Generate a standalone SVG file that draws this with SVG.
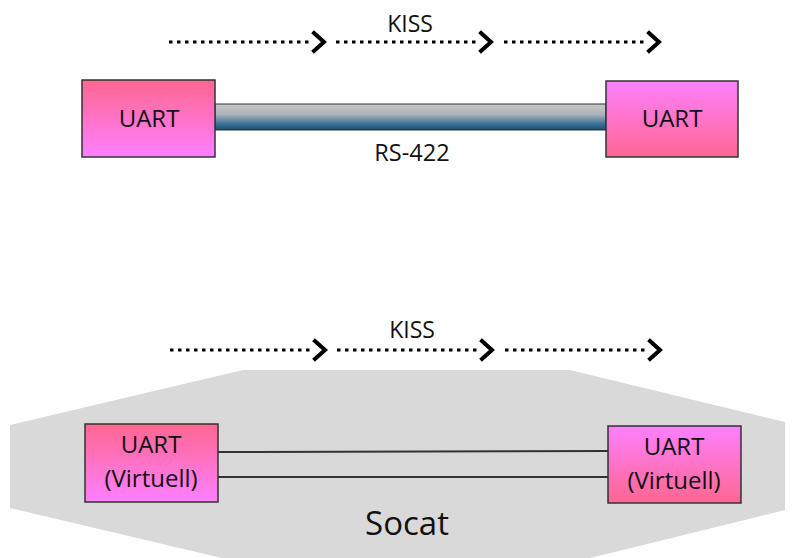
<svg xmlns="http://www.w3.org/2000/svg" width="795" height="558" viewBox="0 0 795 558">
  <defs>
    <linearGradient id="pinkDown" x1="0" y1="0" x2="0" y2="1">
      <stop offset="0" stop-color="#ff6690"/>
      <stop offset="1" stop-color="#ff80ff"/>
    </linearGradient>
    <linearGradient id="pinkUp" x1="0" y1="0" x2="0" y2="1">
      <stop offset="0" stop-color="#ff80ff"/>
      <stop offset="1" stop-color="#ff6690"/>
    </linearGradient>
    <linearGradient id="cable" x1="0" y1="0" x2="0" y2="1">
      <stop offset="0" stop-color="#c8c8c8"/>
      <stop offset="0.4" stop-color="#aab4bb"/>
      <stop offset="0.75" stop-color="#3f7399"/>
      <stop offset="1" stop-color="#17506f"/>
    </linearGradient>
  </defs>
  <style>
    .box { stroke: #333; stroke-width: 1.5; }
    .lbl { font-family: "Open Sans", "Noto Sans", "Liberation Sans", sans-serif; fill: #111; text-anchor: middle; }
    .dots { fill: none; stroke: #000; stroke-width: 3; stroke-dasharray: 3.5 4.5; }
    .chev { fill: none; stroke: #000; stroke-width: 4; stroke-linecap: square; stroke-linejoin: miter; }
    .wire { stroke: #333; stroke-width: 2; }
  </style>

  <rect width="795" height="558" fill="#ffffff"/>

  <!-- socat area -->
  <g id="socat">
    <polygon points="243,370 570,370 785,422 785,510 570,563 243,563 10,508 10,425" fill="#d9d9d9"/>
    <text class="lbl" x="407" y="535" font-size="33">Socat</text>
  </g>

  <!-- connectors -->
  <g id="connectors">
    <!-- RS-422 cable -->
    <rect x="215" y="104" width="391" height="26" fill="url(#cable)" stroke="#333" stroke-width="1"/>
    <!-- virtual link -->
    <line class="wire" x1="218" y1="452" x2="608" y2="451"/>
    <line class="wire" x1="218" y1="477" x2="608" y2="477"/>

    <!-- KISS flow, top -->
    <line class="dots" x1="169" y1="42" x2="313" y2="42"/>
    <polyline class="chev" points="314,33 324,42 314,51"/>
    <line class="dots" x1="336" y1="42" x2="480" y2="42"/>
    <polyline class="chev" points="481,33 491,42 481,51"/>
    <line class="dots" x1="504" y1="42" x2="648" y2="42"/>
    <polyline class="chev" points="649,33 659,42 649,51"/>

    <!-- KISS flow, bottom -->
    <line class="dots" x1="170" y1="350" x2="314" y2="350"/>
    <polyline class="chev" points="315,341 325,350 315,359"/>
    <line class="dots" x1="337" y1="350" x2="481" y2="350"/>
    <polyline class="chev" points="482,341 492,350 482,359"/>
    <line class="dots" x1="505" y1="350" x2="649" y2="350"/>
    <polyline class="chev" points="650,341 660,350 650,359"/>

    <text class="lbl" x="410" y="32" font-size="23">KISS</text>
    <text class="lbl" x="412" y="161" font-size="23.5">RS-422</text>
    <text class="lbl" x="412" y="338" font-size="23">KISS</text>
  </g>

  <g id="uart-a">
    <rect class="box" x="82" y="80" width="133" height="77" fill="url(#pinkDown)"/>
    <text class="lbl" x="149" y="127" font-size="24">UART</text>
  </g>

  <g id="uart-b">
    <rect class="box" x="606" y="81" width="132" height="76" fill="url(#pinkUp)"/>
    <text class="lbl" x="672" y="127" font-size="24">UART</text>
  </g>

  <g id="vuart-a">
    <rect class="box" x="85" y="424" width="133" height="78" fill="url(#pinkDown)"/>
    <text class="lbl" x="151" y="453" font-size="24">UART</text>
    <text class="lbl" x="151" y="487" font-size="24">(Virtuell)</text>
  </g>

  <g id="vuart-b">
    <rect class="box" x="608" y="426" width="133" height="77" fill="url(#pinkUp)"/>
    <text class="lbl" x="674" y="455" font-size="24">UART</text>
    <text class="lbl" x="674" y="489" font-size="24">(Virtuell)</text>
  </g>
</svg>
